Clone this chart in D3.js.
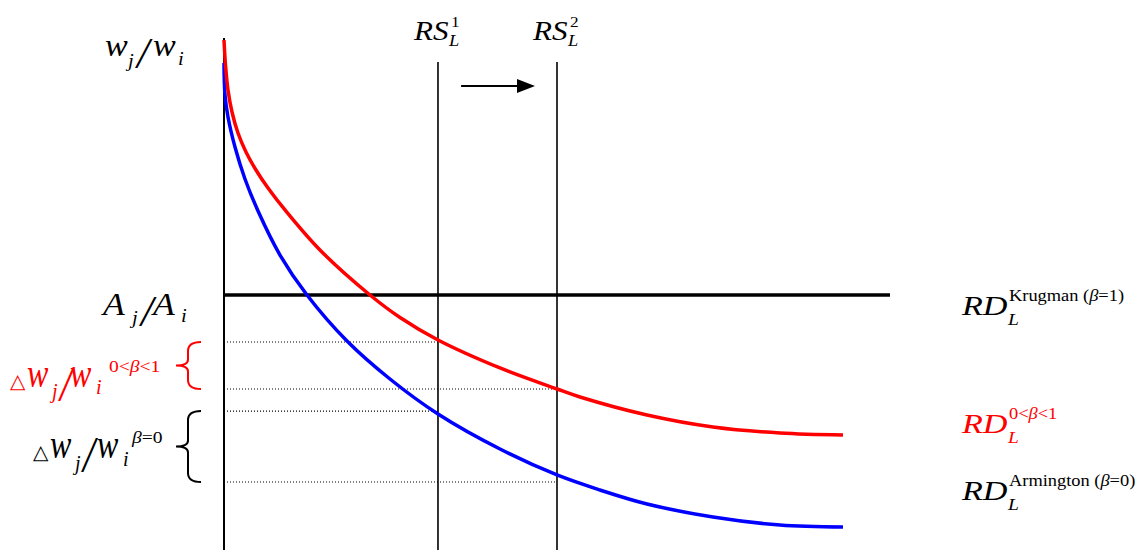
<!DOCTYPE html>
<html>
<head>
<meta charset="utf-8">
<script src="https://cdn.jsdelivr.net/npm/d3@7"></script>
<style>
  body { margin: 0; background: #fff; }
  svg text { font-family: "Liberation Serif", "Times New Roman", serif; }
</style>
</head>
<body>
<div id="chart"></div>
<script>
// relative labour demand curves (quantity, wage ratio)
var redQ = [0, 0.0225, 0.060, 0.120, 0.210, 0.330, 0.480, 0.661, 0.916, 1.441, 2.192, 2.643, 3.213, 4.144, 5.0, 5.345, 6.351, 7.342, 8.348, 9.294];
var redW = [10.0, 9.510, 9.020, 8.588, 8.176, 7.804, 7.451, 7.098, 6.667, 5.882, 5.0, 4.559, 4.118, 3.569, 3.157, 3.0, 2.647, 2.412, 2.294, 2.255];
var blueQ = [0, 0.015, 0.060, 0.165, 0.315, 0.511, 0.841, 1.246, 1.847, 2.492, 3.213, 4.144, 5.0, 5.646, 6.351, 7.342, 8.348, 9.294];
var blueW = [9.549, 8.922, 8.490, 7.902, 7.275, 6.647, 5.784, 5.0, 4.098, 3.353, 2.667, 1.980, 1.471, 1.176, 0.902, 0.647, 0.490, 0.451];

// supply lines RS1, RS2 and the Krugman (flat) demand level
var rsQ = [3.213, 5.0];
var rsTop = 9.57;
var krugmanW = 5.0;
var krugmanEnd = 10;

// dotted guide levels: [wage, supply index]
var guideW = [4.078, 3.157, 2.725, 1.333];
var guideRS = [0, 1, 0, 1];

// shift arrow
var arrowQ = [3.56, 4.67];
var arrowW = 9.1;

var svgWidth = 1141, svgHeight = 550;

var svg = d3.select('#chart')
    .append('svg')
    .attr('width', svgWidth)
    .attr('height', svgHeight);

var x = d3.scaleLinear().domain([0, 10]).range([224, 890]);
var y = d3.scaleLinear().domain([0, 10]).range([550, 40]);

function zip(a, b) { return a.map(function(v, i) { return [v, b[i]]; }); }

var line = d3.line()
    .x(function(d) { return x(d[0]); })
    .y(function(d) { return y(d[1]); })
    .curve(d3.curveCatmullRom.alpha(0.5));

// dotted guides
svg.selectAll('.guide')
    .data(guideW)
    .enter().append('line')
    .attr('class', 'guide')
    .attr('x1', x(0))
    .attr('x2', function(d, i) { return x(rsQ[guideRS[i]]); })
    .attr('y1', function(d) { return y(d); })
    .attr('y2', function(d) { return y(d); })
    .attr('stroke', '#000')
    .attr('stroke-width', 1.2)
    .attr('stroke-dasharray', '1,2');

// vertical axis
svg.append('line')
    .attr('x1', x(0)).attr('x2', x(0))
    .attr('y1', y(10.04)).attr('y2', y(0))
    .attr('stroke', '#000').attr('stroke-width', 2);

// RS lines
svg.selectAll('.rs')
    .data(rsQ)
    .enter().append('line')
    .attr('class', 'rs')
    .attr('x1', function(d) { return x(d); })
    .attr('x2', function(d) { return x(d); })
    .attr('y1', y(rsTop)).attr('y2', y(0))
    .attr('stroke', '#000').attr('stroke-width', 1.6);

// Krugman flat line
svg.append('line')
    .attr('x1', x(0)).attr('x2', x(krugmanEnd))
    .attr('y1', y(krugmanW)).attr('y2', y(krugmanW))
    .attr('stroke', '#000').attr('stroke-width', 3.5);

// curves
svg.append('path')
    .datum(zip(blueQ, blueW))
    .attr('fill', 'none')
    .attr('stroke', '#0000ff')
    .attr('stroke-width', 3.5)
    .attr('d', line);

svg.append('path')
    .datum(zip(redQ, redW))
    .attr('fill', 'none')
    .attr('stroke', '#ff0000')
    .attr('stroke-width', 3.5)
    .attr('d', line);

// arrow
svg.append('line')
    .attr('x1', x(arrowQ[0])).attr('x2', x(arrowQ[1]) - 16)
    .attr('y1', y(arrowW)).attr('y2', y(arrowW))
    .attr('stroke', '#000').attr('stroke-width', 2);
svg.append('path')
    .attr('d', 'M' + x(arrowQ[1]) + ',' + y(arrowW) +
        'L' + (x(arrowQ[1]) - 18) + ',' + (y(arrowW) - 7) +
        'L' + (x(arrowQ[1]) - 18) + ',' + (y(arrowW) + 7) + 'Z')
    .attr('fill', '#000');

// braces on the left
function brace(y1, y2, color) {
    var xr = 201, xm = 188, xt = 176, mid = (y1 + y2) / 2;
    var p = 'M' + xr + ',' + y1 +
        'Q' + xm + ',' + y1 + ' ' + xm + ',' + (y1 + 9) +
        'L' + xm + ',' + (mid - 6) +
        'Q' + xm + ',' + mid + ' ' + xt + ',' + mid +
        'Q' + xm + ',' + mid + ' ' + xm + ',' + (mid + 6) +
        'L' + xm + ',' + (y2 - 9) +
        'Q' + xm + ',' + y2 + ' ' + xr + ',' + y2;
    svg.append('path').attr('d', p).attr('fill', 'none')
        .attr('stroke', color).attr('stroke-width', 2);
}
brace(y(guideW[0]), y(guideW[1]), '#ff0000');
brace(y(guideW[2]), y(guideW[3]), '#000');

// math labels: each piece placed on its own
function piece(px, py, t, size, italic, fill, sx, family) {
    var tx = svg.append('text')
        .attr('transform', 'translate(' + px + ',' + py + ') scale(' + (sx || 1.15) + ',1)')
        .style('font-size', size + 'px')
        .style('font-style', italic ? 'italic' : 'normal')
        .attr('fill', fill || '#000');
    if (family) tx.style('font-family', family);
    if (Array.isArray(t)) {
        t.forEach(function(s) {
            tx.append('tspan').style('font-style', s.i ? 'italic' : 'normal').text(s.t);
        });
    } else {
        tx.text(t);
    }
    return tx;
}

// w_j / w_i
piece(105, 56, 'w', 31, true, '#000', 1.1);
piece(128, 67, 'j', 18, true);
piece(137, 68, '/', 44, true, '#000', 1.0);
piece(153, 56, 'w', 31, true, '#000', 1.1);
piece(178, 65, 'i', 18, true);

// A_j / A_i
piece(103, 315, 'A', 31, true);
piece(132, 324, 'j', 18, true);
piece(141, 326, '/', 44, true, '#000', 1.0);
piece(153, 315, 'A', 31, true);
piece(181, 322, 'i', 18, true);

// RS labels
rsQ.forEach(function(q, k) {
    var bx = x(q) - 24;
    piece(bx, 40, 'RS', 27, true, '#000', 1.15);
    piece(bx + 35, 46, 'L', 16, true);
    piece(bx + 37, 27, String(k + 1), 15, false);
});

// left delta labels
var red = '#ff0000';
piece(10, 388, '\u25B3', 20, false, red, 1.0, 'DejaVu Sans');
piece(27, 387, 'w', 40, true, red, 0.8);
piece(52, 398, 'j', 20, true, red, 1.0);
piece(60, 400, '/', 50, true, red, 0.85);
piece(70, 387, 'w', 40, true, red, 0.8);
piece(96, 394, 'i', 20, true, red, 1.0);
piece(109, 372, [{t: '0<'}, {t: '\u03B2', i: true}, {t: '<1'}], 17, false, red);

piece(33, 459, '\u25B3', 20, false, '#000', 1.0, 'DejaVu Sans');
piece(50, 458, 'w', 40, true, '#000', 0.8);
piece(75, 470, 'j', 20, true, '#000', 1.0);
piece(83, 471, '/', 50, true, '#000', 0.85);
piece(97, 458, 'w', 40, true, '#000', 0.8);
piece(123, 466, 'i', 20, true, '#000', 1.0);
piece(132, 443, [{t: '\u03B2', i: true}, {t: '=0'}], 17, false);

// right RD labels
function rdLabel(by, sup, fill) {
    piece(962, by, 'RD', 28, true, fill, 1.22);
    piece(1008, by + 10, 'L', 17, true, fill);
    piece(1009, by - 14, sup, 16, false, fill);
}
rdLabel(315, [{t: 'Krugman ('}, {t: '\u03B2', i: true}, {t: '=1)'}], '#000');
rdLabel(433, [{t: '0<'}, {t: '\u03B2', i: true}, {t: '<1'}], red);
rdLabel(500, [{t: 'Armington ('}, {t: '\u03B2', i: true}, {t: '=0)'}], '#000');
</script>
</body>
</html>
